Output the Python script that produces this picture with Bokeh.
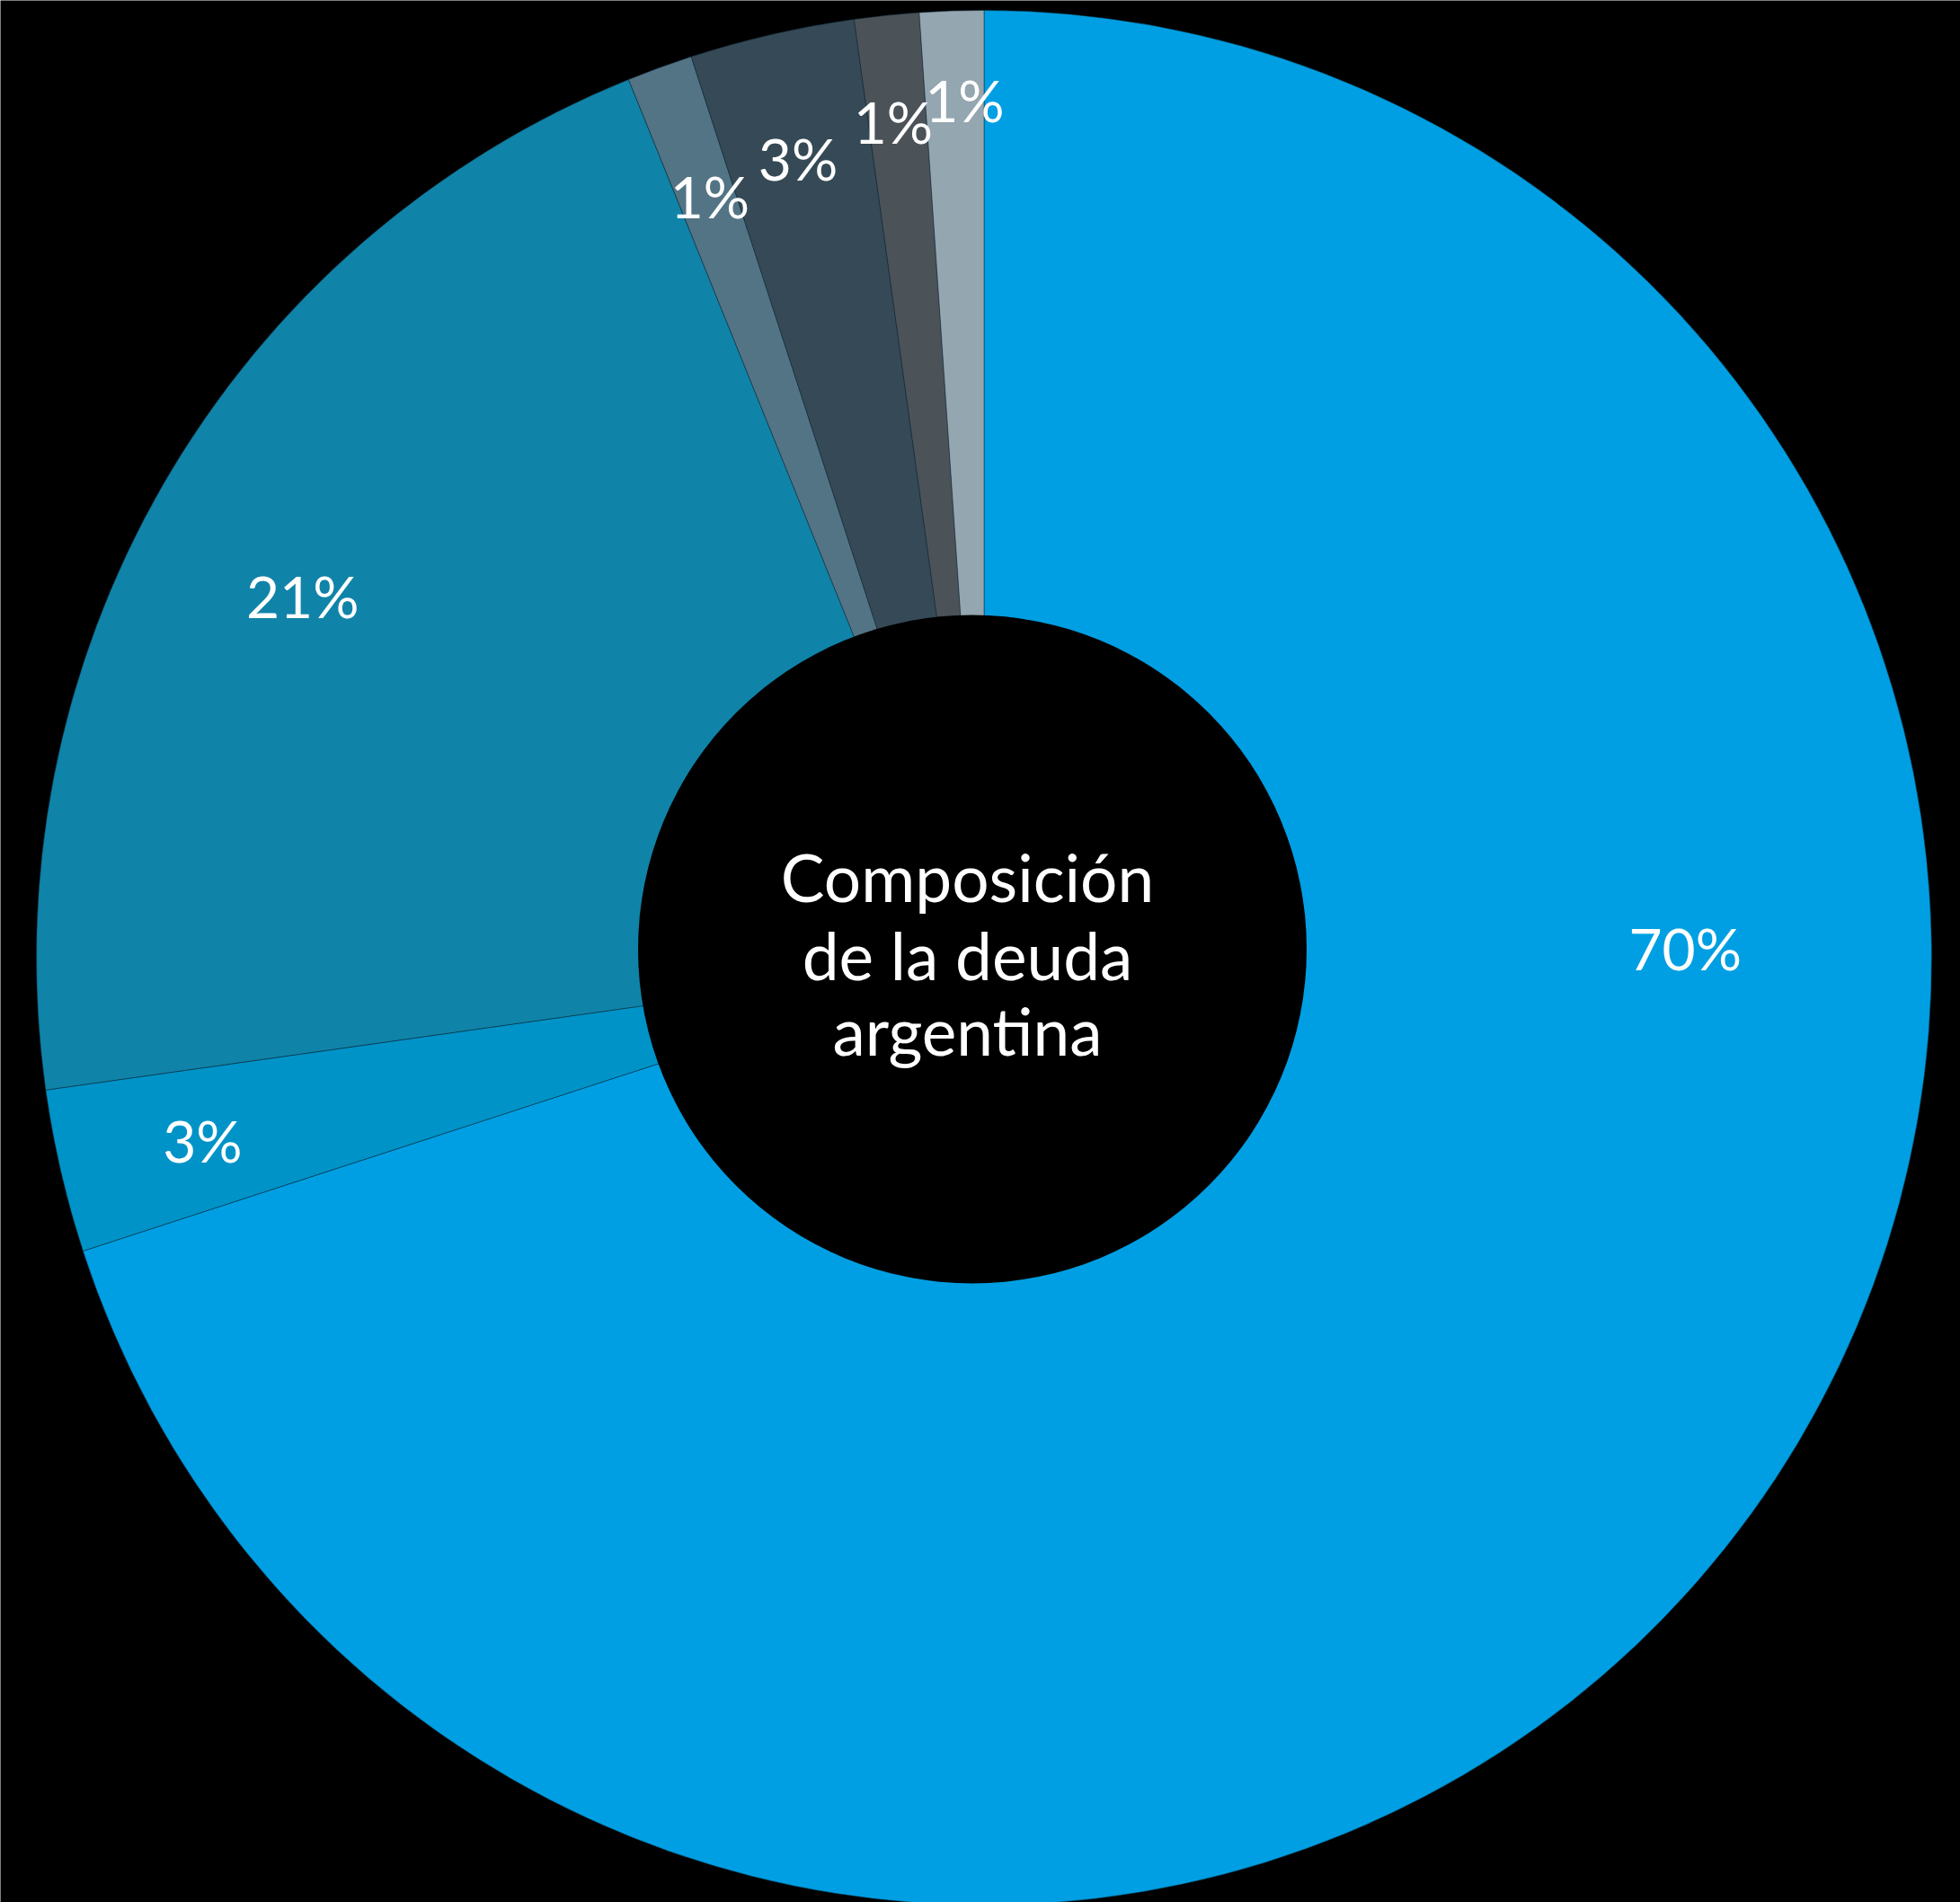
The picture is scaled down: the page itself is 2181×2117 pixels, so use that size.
import numpy as np
from bokeh.plotting import figure
from bokeh.models import ColumnDataSource, Range1d
from bokeh.core.properties import value
from bokeh.embed import file_html
from bokeh.resources import INLINE

# ---- data (clockwise from 12 o'clock) ----
shares = [69.99, 2.78, 21.11, 1.12, 2.81, 1.10, 1.09]
labels = ["70%", "3%", "21%", "1%", "3%", "1%", "1%"]
colors = ["#009FE3", "#0093C8", "#1083A8", "#537485", "#354A56", "#4B5258", "#94A6B0"]
title_lines = ["Composición", "de la deuda", "argentina"]

# ---- layout ----
W, H = 2181, 2117
cx, cy, R = 1094.5, H - 1065.5, 1054.5          # pie centre / radius
hx, hy, hr = 1081.5, H - 1056.0, 372.0          # black hole
label_r = [0.740, 0.847, 0.814, 0.854, 0.866, 0.888, 0.905]
label_deg = [89.2, 256.8, 297.95, 340.2, 346.9, 353.8, 358.7]   # clockwise from top

vals = np.array(shares, dtype=float)
frac = vals / vals.sum()
cw_end = np.cumsum(frac) * 2 * np.pi
cw_start = cw_end - frac * 2 * np.pi
start_angle = np.pi / 2 - cw_end
end_angle = np.pi / 2 - cw_start

lab_theta = np.deg2rad(label_deg)
lr = np.array(label_r) * R
lx = cx + lr * np.sin(lab_theta)
ly = cy + lr * np.cos(lab_theta)

src = ColumnDataSource(dict(start=start_angle, end=end_angle, color=colors))
lsrc = ColumnDataSource(dict(x=lx, y=ly, text=labels))

p = figure(width=W, height=H, x_range=Range1d(0, W), y_range=Range1d(0, H),
           output_backend="svg", toolbar_location=None, min_border=0,
           x_axis_location=None, y_axis_location=None,
           background_fill_color="black", border_fill_color="black",
           outline_line_color=None)
p.grid.visible = False

p.wedge(x=cx, y=cy, radius=R, start_angle="start", end_angle="end",
        fill_color="color", line_color="#0b2a3a", line_alpha=0.5, line_width=1,
        source=src)
p.circle(x=hx, y=hy, radius=hr, fill_color="black", line_color=None)

p.text(x="x", y="y", text="text", source=lsrc, text_align="center",
       text_baseline="middle", text_color="white",
       text_font=value("Lato"), text_font_size="64px")

p.text(x=[1076, 1076, 1076], y=[H - 975, H - 1062, H - 1146], text=title_lines,
       text_align="center", text_baseline="alphabetic", text_color="white",
       text_font=value("Lato"), text_font_size="73px")

open("out.html", "w").write(file_html(p, INLINE))
